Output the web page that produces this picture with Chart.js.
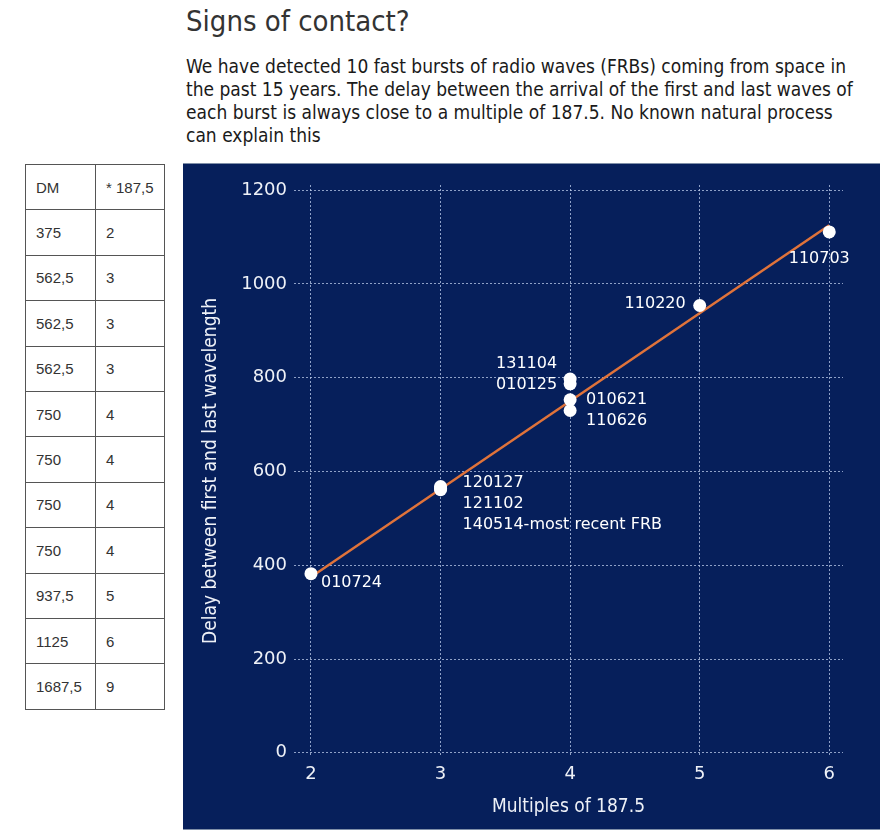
<!DOCTYPE html>
<html>
<head>
<meta charset="utf-8">
<script src="https://cdn.jsdelivr.net/npm/chart.js@4/dist/chart.umd.min.js"></script>
<style>
  body { margin: 0; width: 880px; height: 831px; background: #fff; position: relative; overflow: hidden; }
  h1 {
    position: absolute; left: 186px; top: 4px; margin: 0;
    font: 300 29px "Liberation Sans Narrow", "DejaVu Sans Condensed", "Open Sans", sans-serif;
    color: #333;
  }
  .sub {
    position: absolute; left: 186px; top: 55px; width: 680px; margin: 0;
    font: 19px/23px "Liberation Sans Narrow", "DejaVu Sans Condensed", "Open Sans", sans-serif;
    color: #1a1a1a;
  }
  table {
    position: absolute; left: 25px; top: 164px; border-collapse: collapse;
    font: 15px "Liberation Sans", Arial, sans-serif; color: #333;
  }
  tr { height: 45.4px; }
  td { border: 1px solid #555; padding: 0 0 0 10px; vertical-align: middle; }
  td.c1 { width: 59px; }
  td.c2 { width: 58px; }
  .panel {
    position: absolute; left: 183px; top: 163px; width: 697px; height: 667px;
    background: #061f5b; border-top: 1px solid #7f8fa8; border-bottom: 1px solid #7f8fa8; box-sizing: border-box;
  }
  .panel canvas { position: absolute; left: 0; top: -1px; }
</style>
</head>
<body>
<h1>Signs of contact?</h1>
<p class="sub">We have detected 10 fast bursts of radio waves (FRBs) coming from space in the past 15 years. The delay between the arrival of the first and last waves of each burst is always close to a multiple of 187.5. No known natural process can explain this</p>
<table id="dm-table"></table>
<div class="panel"><canvas id="chart" width="697" height="667"></canvas></div>

<script>
// Data
const tableHeader = ['DM', '* 187,5'];
const tableDM = ['375', '562,5', '562,5', '562,5', '750', '750', '750', '750', '937,5', '1125', '1687,5'];
const tableMultiple = ['2', '3', '3', '3', '4', '4', '4', '4', '5', '6', '9'];

const burstNames = ['010724', '120127', '121102', '140514-most recent FRB', '131104', '010125', '010621', '110626', '110220', '110703'];
const burstMultiple = [2, 3, 3, 3, 4, 4, 4, 4, 5, 6];
const burstDelay = [382, 568, 564, 561, 797, 787, 753, 730, 954, 1111];

const fitX = [2, 6];
const fitY = [375, 1125];

const xTickValues = [2, 3, 4, 5, 6];
const yTickValues = [0, 200, 400, 600, 800, 1000, 1200];

// ── Table ────────────────────────────────────────────────────
function buildTable() {
  const rows = [tableHeader].concat(tableDM.map((dm, i) => [dm, tableMultiple[i]]));
  document.getElementById('dm-table').innerHTML = rows
    .map(r => `<tr><td class="c1">${r[0]}</td><td class="c2">${r[1]}</td></tr>`)
    .join('');
}

// ── Point labels ─────────────────────────────────────────────
// pixel offsets from each point: [dx, dy, align]
const labelOffsets = {
  '010724': [10, 9, 'left'],
  '120127': [22, -4, 'left'],
  '121102': [22, 15, 'left'],
  '140514-most recent FRB': [22, 35, 'left'],
  '131104': [-13, -15, 'right'],
  '010125': [-13, 1, 'right'],
  '010621': [16, 0, 'left'],
  '110626': [16, 10, 'left'],
  '110220': [-14, -2, 'right'],
  '110703': [-10, 27, 'center']
};

const pointLabels = {
  id: 'pointLabels',
  afterDatasetsDraw(chart) {
    const { ctx, scales: { x, y } } = chart;
    ctx.save();
    ctx.font = '16px "DejaVu Sans", sans-serif';
    ctx.fillStyle = '#ffffff';
    ctx.textBaseline = 'middle';
    burstNames.forEach((name, i) => {
      const [dx, dy, align] = labelOffsets[name];
      ctx.textAlign = align;
      ctx.fillText(name, x.getPixelForValue(burstMultiple[i]) + dx, y.getPixelForValue(burstDelay[i]) + dy);
    });
    ctx.restore();
  }
};

// ── Chart ────────────────────────────────────────────────────
function initChart() {
  const gridStyle = { color: 'rgba(190,205,235,0.75)', lineWidth: 1, drawTicks: false };
  const tickFont = { family: 'DejaVu Sans', size: 18 };
  const titleFont = { family: '"Liberation Sans Narrow", "DejaVu Sans Condensed", "Open Sans", sans-serif', size: 19 };

  new Chart(document.getElementById('chart'), {
    data: {
      datasets: [{
        type: 'scatter',
        data: burstMultiple.map((m, i) => ({ x: m, y: burstDelay[i] })),
        backgroundColor: '#ffffff',
        borderWidth: 0,
        pointRadius: 6.5,
        order: 0
      }, {
        type: 'line',
        data: fitX.map((v, i) => ({ x: v, y: fitY[i] })),
        borderColor: '#e0733a',
        borderWidth: 2.5,
        pointRadius: 0,
        order: 1
      }]
    },
    options: {
      responsive: false,
      animation: false,
      layout: { padding: { top: 22, right: 37, left: 0, bottom: 0 } },
      scales: {
        x: {
          type: 'linear',
          min: 1.869,
          max: 6.106,
          afterBuildTicks: axis => { axis.ticks = xTickValues.map(v => ({ value: v })); },
          afterFit: axis => { axis.height = 73; },
          grid: gridStyle,
          border: { display: false, dash: [2, 2] },
          ticks: { color: '#eef1f7', font: tickFont, padding: 7, callback: v => String(v) },
          title: { display: true, text: 'Multiples of 187.5', color: '#eef1f7', font: titleFont, padding: { top: 0, bottom: 12 } }
        },
        y: {
          min: -9,
          max: 1211,
          afterBuildTicks: axis => { axis.ticks = yTickValues.map(v => ({ value: v })); },
          afterFit: axis => { axis.width = 111; },
          grid: gridStyle,
          border: { display: false, dash: [2, 2] },
          ticks: { color: '#eef1f7', font: tickFont, padding: 7, callback: v => String(v) },
          title: { display: true, text: 'Delay between first and last wavelength', color: '#eef1f7', font: titleFont, padding: { top: 17, bottom: 0 } }
        }
      },
      plugins: {
        legend: { display: false },
        tooltip: { enabled: false }
      }
    },
    plugins: [pointLabels]
  });
}

buildTable();
initChart();
</script>
</body>
</html>
